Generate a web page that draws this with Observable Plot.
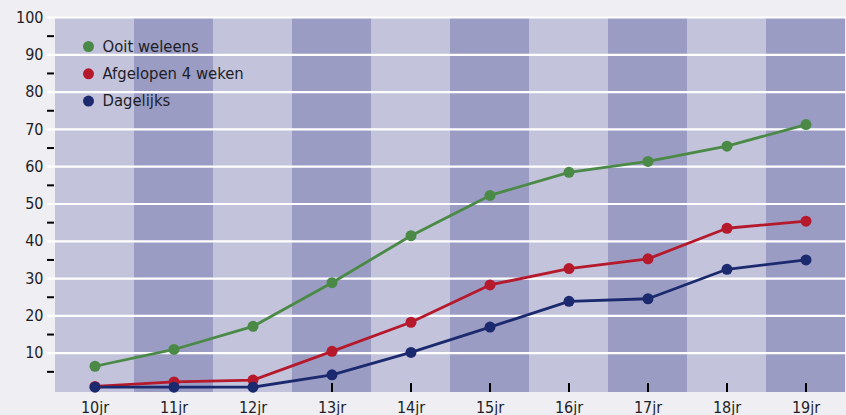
<!DOCTYPE html>
<html>
<head>
<meta charset="utf-8">
<script src="https://cdn.jsdelivr.net/npm/d3@7"></script>
<script src="https://cdn.jsdelivr.net/npm/@observablehq/plot@0.6"></script>
<style>
  html, body { margin: 0; padding: 0; background: #efeef3; }
  #chart svg { display: block; }
</style>
</head>
<body>
<div id="chart"></div>
<script>
const ages = ["10jr", "11jr", "12jr", "13jr", "14jr", "15jr", "16jr", "17jr", "18jr", "19jr"];
const ooitWeleens = [6.5, 11.0, 17.2, 28.9, 41.5, 52.3, 58.5, 61.4, 65.5, 71.3];
const afgelopen4Weken = [1.1, 2.3, 2.8, 10.5, 18.3, 28.3, 32.7, 35.3, 43.5, 45.4];
const dagelijks = [0.9, 0.9, 0.9, 4.2, 10.2, 17.0, 23.9, 24.6, 32.5, 35.0];
const seriesNames = ["Ooit weleens", "Afgelopen 4 weken", "Dagelijks"];
const seriesValues = [ooitWeleens, afgelopen4Weken, dagelijks];
const seriesColors = ["#4a8a46", "#b5192b", "#1b2a6e"];
const yMajorTicks = [10, 20, 30, 40, 50, 60, 70, 80, 90, 100];
const yMinorTicks = [5, 15, 25, 35, 45, 55, 65, 75, 85, 95];
const bandColors = ["#c3c3dc", "#9b9cc3"];

const rows = [];
seriesNames.forEach((name, s) => {
  ages.forEach((age, i) => rows.push({series: name, age, value: seriesValues[s][i]}));
});
const bands = ages.map((age, i) => ({age, fill: bandColors[i % 2]}));

const font = "DejaVu Sans Condensed, DejaVu Sans, sans-serif";

const legendMarks = seriesNames.flatMap((name, i) => [
  Plot.dot([name], {frameAnchor: "top-left", dx: 34, dy: 29 + i * 27.3, r: 5.5, fill: seriesColors[i], stroke: "none"}),
  Plot.text([name], {frameAnchor: "top-left", dx: 48, dy: 29 + i * 27.3, text: d => d, textAnchor: "start", lineAnchor: "middle", fill: "#1e1e28", fontSize: 16.5})
]);

const chart = Plot.plot({
  width: 846,
  height: 415,
  marginLeft: 54,
  marginRight: 0,
  marginTop: 17,
  marginBottom: 25,
  style: {background: "#efeef3", fontFamily: font, fontSize: "16px", color: "#1e1e28"},
  x: {domain: ages, padding: 0, label: null},
  y: {domain: [0, 100], label: null},
  color: {domain: seriesNames, range: seriesColors},
  marks: [
    Plot.barY(bands, {x: "age", y1: 0, y2: 100, fill: d => d.fill, insetBottom: -2}),
    Plot.ruleY(yMajorTicks, {stroke: "white", strokeWidth: 2.2, insetLeft: -7}),
    Plot.axisY(yMinorTicks, {tickSize: 7, tickFormat: () => "", stroke: "#000", strokeWidth: 2, label: null}),
    Plot.axisY(yMajorTicks, {tickSize: 0, tickPadding: 11, label: null, fill: "#1e1e28", fontSize: 16}),
    Plot.ruleX(ages, {x: d => d, stroke: "#000", strokeWidth: 2, insetTop: 366, insetBottom: -2}),
    Plot.axisX(ages, {tickSize: 0, tickPadding: 11, label: null, fill: "#1e1e28", fontSize: 16}),
    Plot.line(rows, {x: "age", y: "value", z: "series", stroke: "series", strokeWidth: 2.8}),
    Plot.dot(rows, {x: "age", y: "value", fill: "series", r: 5.5, stroke: "none"}),
    ...legendMarks
  ]
});
document.getElementById("chart").append(chart);
</script>
</body>
</html>
